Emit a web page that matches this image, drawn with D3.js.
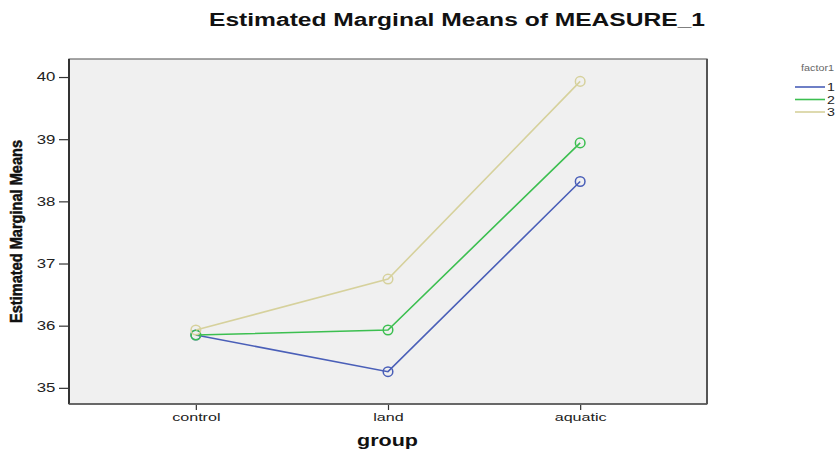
<!DOCTYPE html>
<html>
<head>
<meta charset="utf-8">
<script src="https://cdn.jsdelivr.net/npm/d3@7"></script>
<style>
  body { margin: 0; background: #fff; }
  svg { display: block; }
</style>
</head>
<body>
<svg id="chart" width="839" height="450"></svg>
<script>
// Estimated marginal means per group, one line per level of factor1
const groups = ["control", "land", "aquatic"];
const levels = ["1", "2", "3"];
const means1 = [35.85, 35.26, 38.32];
const means2 = [35.85, 35.93, 38.94];
const means3 = [35.93, 36.75, 39.93];
const yTicks = [35, 36, 37, 38, 39, 40];
const colors = ["#4a5fb8", "#3cbf50", "#d6d19c"];

const series = [means1, means2, means3].map((vals, i) => ({
  level: levels[i],
  color: colors[i],
  points: vals.map((v, j) => ({ group: groups[j], value: v }))
}));

const FONT = "Liberation Sans, Arial, sans-serif";
const WIDE = 1.4; // horizontal stretch of the tick lettering

const svg = d3.select("#chart");
const plot = { left: 69, right: 707, top: 59, bottom: 404 };

const x = d3.scalePoint().domain(groups).range([plot.left, plot.right]).padding(0.66);
const y = d3.scaleLinear().domain([34.74, 40.29]).range([plot.bottom, plot.top]);

// Title
svg.append("text")
  .attr("x", 209).attr("y", 26)
  .attr("font-family", FONT)
  .attr("font-weight", "bold")
  .attr("font-size", 18)
  .attr("textLength", 496).attr("lengthAdjust", "spacingAndGlyphs")
  .attr("fill", "#111")
  .text("Estimated Marginal Means of MEASURE_1");

// Plot background and frame
svg.append("rect")
  .attr("x", plot.left).attr("y", plot.top)
  .attr("width", plot.right - plot.left).attr("height", plot.bottom - plot.top)
  .attr("fill", "#f0f0f0")
  .attr("stroke", "#6a6a6a").attr("stroke-width", 1.2);
svg.append("line")
  .attr("x1", plot.left).attr("x2", plot.left)
  .attr("y1", plot.top).attr("y2", plot.bottom)
  .attr("stroke", "#333").attr("stroke-width", 2);
svg.append("line")
  .attr("x1", plot.right).attr("x2", plot.right)
  .attr("y1", plot.top).attr("y2", plot.bottom)
  .attr("stroke", "#555").attr("stroke-width", 2);
svg.append("line")
  .attr("x1", plot.left).attr("x2", plot.right)
  .attr("y1", plot.bottom).attr("y2", plot.bottom)
  .attr("stroke", "#555").attr("stroke-width", 1.5);

// Y axis
const yAxis = svg.append("g")
  .attr("transform", `translate(${plot.left - 1},0)`)
  .call(d3.axisLeft(y).tickValues(yTicks).tickSize(9).tickPadding(0).tickFormat(d3.format("d")));
yAxis.select(".domain").remove();
yAxis.selectAll(".tick line").attr("stroke", "#333").attr("stroke-width", 1.2);
yAxis.selectAll(".tick text")
  .attr("font-family", FONT)
  .attr("font-size", 12).attr("fill", "#222")
  .attr("transform", `scale(${WIDE},1)`);

// X axis
const xAxis = svg.append("g")
  .attr("transform", `translate(0,${plot.bottom + 1})`)
  .call(d3.axisBottom(x).tickSize(5).tickPadding(3));
xAxis.select(".domain").remove();
xAxis.selectAll(".tick line").attr("stroke", "#333").attr("stroke-width", 1.2);
xAxis.selectAll(".tick text")
  .attr("font-family", FONT)
  .attr("font-size", 11.5).attr("fill", "#222")
  .attr("transform", `scale(${WIDE},1)`);

// Axis titles
svg.append("text")
  .attr("x", 357).attr("y", 446)
  .attr("font-family", FONT)
  .attr("font-weight", "bold").attr("font-size", 16)
  .attr("textLength", 61).attr("lengthAdjust", "spacingAndGlyphs")
  .attr("fill", "#111")
  .text("group");

svg.append("text")
  .attr("transform", "translate(22,323) rotate(-90)")
  .attr("font-family", "Liberation Sans Narrow, Arial Narrow, " + FONT)
  .attr("font-weight", "bold").attr("font-size", 16)
  .attr("textLength", 183).attr("lengthAdjust", "spacingAndGlyphs")
  .attr("fill", "#111")
  .attr("stroke", "#111").attr("stroke-width", 0.5)
  .text("Estimated Marginal Means");

// Lines and markers
const line = d3.line().x(d => x(d.group)).y(d => y(d.value));
const gSeries = svg.append("g").selectAll("g").data(series).join("g");
gSeries.append("path")
  .attr("d", d => line(d.points))
  .attr("fill", "none")
  .attr("stroke", d => d.color)
  .attr("stroke-width", 1.6);
gSeries.selectAll("circle")
  .data(d => d.points.map(p => ({ ...p, color: d.color })))
  .join("circle")
  .attr("cx", d => x(d.group)).attr("cy", d => y(d.value))
  .attr("r", 4.8)
  .attr("fill", "none")
  .attr("stroke", d => d.color)
  .attr("stroke-width", 1.5);

// Legend
const legend = svg.append("g");
legend.append("text")
  .attr("x", 801).attr("y", 71)
  .attr("font-family", FONT)
  .attr("font-size", 8.5).attr("fill", "#666")
  .attr("textLength", 33).attr("lengthAdjust", "spacingAndGlyphs")
  .text("factor1");
const items = legend.selectAll("g.item").data(series).join("g")
  .attr("class", "item")
  .attr("transform", (d, i) => `translate(0,${87 + i * 12.5})`);
items.append("line")
  .attr("x1", 795).attr("x2", 825)
  .attr("stroke", d => d.color).attr("stroke-width", 1.6);
items.append("text")
  .attr("transform", "translate(827,4) scale(1.35,1)")
  .attr("font-family", FONT)
  .attr("font-size", 10.5).attr("fill", "#222")
  .text(d => d.level);
</script>
</body>
</html>
